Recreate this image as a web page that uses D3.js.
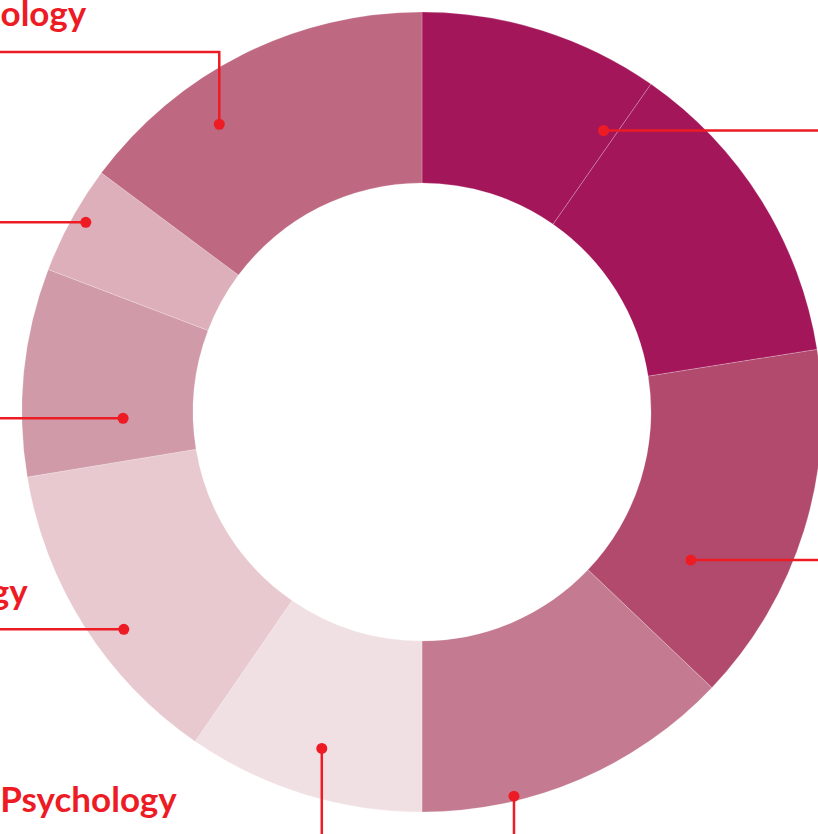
<!DOCTYPE html>
<html>
<head>
<meta charset="utf-8">
<script src="https://cdn.jsdelivr.net/npm/d3@7.9.0/dist/d3.min.js"></script>
<style>
  html, body { margin: 0; padding: 0; background: #fff; overflow: hidden; }
  svg { display: block; }
</style>
</head>
<body>
<svg id="chart" width="818" height="834"></svg>
<script>
// share of each slice (percent), clockwise from 12 o'clock
const shares = [9.7, 12.8, 14.6, 12.9, 9.6, 12.8, 8.4, 4.4, 14.8];
const sliceColors = ["#A3165A", "#A3165A", "#B24A6E", "#C47B91", "#F0E0E4",
                     "#E8C9D0", "#D09AA8", "#DDAFBA", "#BE6882"];
// visible parts of the callout labels (the rest runs off the page)
const sliceLabels = ["", "", "", "", "Psychology", "gy", "", "", "ology"];

const svg = d3.select("#chart");
const width  = +svg.attr("width");
const height = +svg.attr("height");

const cx = 422, cy = 412;
const outerR = 400, innerR = 229;
const red = "#ED1C24";

const g = svg.append("g").attr("transform", `translate(${cx},${cy})`);

const pie = d3.pie().sort(null).value(d => d);
const arcs = pie(shares);

const arc = d3.arc().innerRadius(innerR).outerRadius(outerR);

g.selectAll("path.slice")
  .data(arcs)
  .enter()
  .append("path")
  .attr("class", "slice")
  .attr("d", arc)
  .attr("fill", (d, i) => sliceColors[i])
  .attr("stroke", "#fff")
  .attr("stroke-width", 0.6)
  .attr("stroke-opacity", 0.35);

// callouts: where the dot sits in its slice (fraction of the slice angle, radius)
// and which way the line leaves the ring
const callouts = [
  { slice: 0, t: 0.94, r: 335, dir: "right" },
  { slice: 2, t: 0.72, r: 307, dir: "right" },
  { slice: 3, t: 0.71, r: 395, dir: "down" },
  { slice: 4, t: 0.48, r: 351, dir: "downLeft", elbowY: 425, labelGap: 145 },
  { slice: 5, t: 0.42, r: 369, dir: "left", labelGap: 96 },
  { slice: 6, t: 0.27, r: 299, dir: "left" },
  { slice: 7, t: 0.54, r: 386, dir: "left" },
  { slice: 8, t: 0.34, r: 352, dir: "upLeft", elbowY: -360, labelGap: 133 }
];

function pointAt(a, r) {
  return [r * Math.sin(a), -r * Math.cos(a)];
}

const leftEdge = -cx - 20, rightEdge = width - cx + 20, bottomEdge = height - cy + 20;

callouts.forEach(c => {
  const d = arcs[c.slice];
  const a = d.startAngle + c.t * (d.endAngle - d.startAngle);
  const [x, y] = pointAt(a, c.r);
  let pts, labelPos = null;
  if (c.dir === "right") {
    pts = [[x, y], [rightEdge, y]];
  } else if (c.dir === "left") {
    pts = [[x, y], [leftEdge, y]];
    labelPos = [x - (c.labelGap || 0), y - 25];
  } else if (c.dir === "down") {
    pts = [[x, y], [x, bottomEdge]];
  } else if (c.dir === "downLeft") {
    pts = [[x, y], [x, c.elbowY], [leftEdge, c.elbowY]];
    labelPos = [x - c.labelGap, c.elbowY - 25];
  } else if (c.dir === "upLeft") {
    pts = [[x, y], [x, c.elbowY], [leftEdge, c.elbowY]];
    labelPos = [x - c.labelGap, c.elbowY - 26];
  }

  g.append("path")
    .attr("d", d3.line()(pts))
    .attr("fill", "none")
    .attr("stroke", red)
    .attr("stroke-width", 2.5);

  g.append("circle")
    .attr("cx", x)
    .attr("cy", y)
    .attr("r", 5.5)
    .attr("fill", red);

  const label = sliceLabels[c.slice];
  if (label && labelPos) {
    g.append("text")
      .attr("x", labelPos[0])
      .attr("y", labelPos[1])
      .attr("text-anchor", "end")
      .attr("fill", red)
      .style("font-family", "Lato, 'Noto Sans', sans-serif")
      .style("font-weight", "700")
      .style("font-size", "35px")
      .text(label);
  }
});
</script>
</body>
</html>
